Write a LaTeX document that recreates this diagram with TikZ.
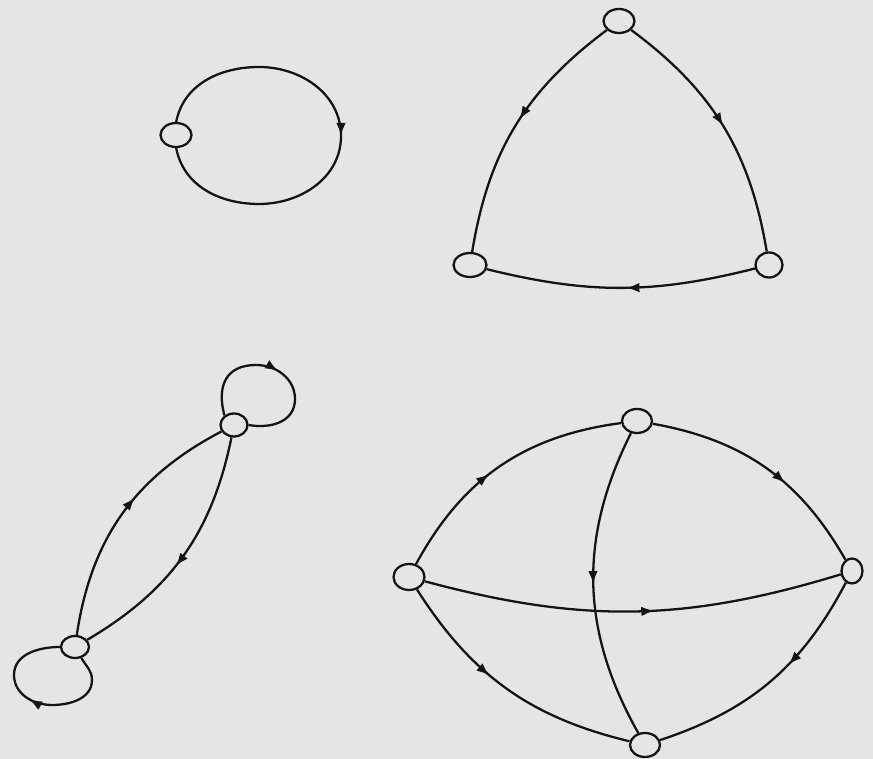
\documentclass[tikz,border=0pt]{standalone}
\usepackage{tikz}
\usetikzlibrary{shapes.geometric, arrows.meta, decorations.markings}

\definecolor{paper}{RGB}{229,229,229}
\definecolor{ink}{RGB}{20,20,20}

\tikzset{
    vertex/.style={ellipse, draw=ink, line width=1.3pt, fill=paper, inner sep=0pt,
        minimum width=0.6cm, minimum height=0.48cm},
    arc/.style={draw=ink, line width=1.3pt},
    midarrow/.style={postaction={decorate}, decoration={markings,
        mark=at position #1 with {\arrow{Latex[length=7.5pt,width=5.5pt]}}}},
    midarrow/.default=0.5
}

\begin{document}
\begin{tikzpicture}[x=0.02cm, y=0.02cm]
    % The page
    \fill[paper] (0,0) rectangle (873,-759);

    % One vertex with a loop
    \coordinate (atop) at (259,-67);
    \coordinate (aright) at (341,-136);
    \coordinate (abot) at (259,-204);
    \draw[arc, midarrow=0.5] (176,-123) to[out=80,in=180] (atop) to[out=0,in=90] (aright)
        to[out=-90,in=0] (abot) to[out=180,in=-80] (176,-147);
    \node[vertex, minimum width=0.62cm] (a) at (176,-135) {};

    % The triangle
    \node[vertex, minimum width=0.62cm] (t) at (619,-21) {};
    \node[vertex, minimum width=0.66cm] (l) at (470,-265) {};
    \node[vertex, minimum width=0.54cm, minimum height=0.5cm] (r) at (769,-265) {};
    \draw[arc, midarrow=0.47] (t) to[bend right=22] (l);
    \draw[arc, midarrow=0.5] (t) to[bend left=22] (r);
    \draw[arc, midarrow=0.48] (r) to[bend left=14] (l);

    % Two vertices, two loops
    \node[vertex, minimum width=0.54cm, minimum height=0.46cm] (b1) at (234,-425) {};
    \node[vertex, minimum width=0.56cm, minimum height=0.44cm] (b2) at (75,-647) {};
    \draw[arc, midarrow=0.58] (b2) to[bend left=27] (b1);
    \draw[arc, midarrow=0.55] (b1) to[bend left=24] (b2);
    \coordinate (bt) at (256,-365);
    \coordinate (br) at (295,-399);
    \draw[arc, midarrow=0.5] (b1.135) to[out=105,in=180,looseness=1.3] (bt) to[out=0,in=90] (br)
        to[out=-90,in=-10,looseness=1.1] (b1.east);
    \coordinate (cr) at (92,-680);
    \coordinate (cb) at (52,-705);
    \coordinate (cl) at (14,-675);
    \draw[arc, midarrow=0.53] (b2.-60) to[out=-60,in=90] (cr) to[out=-90,in=0] (cb)
        to[out=180,in=-90] (cl) to[out=90,in=180] (b2.west);

    % Four vertices
    \node[vertex] (t4) at (637,-421) {};
    \node[vertex, minimum width=0.62cm, minimum height=0.52cm] (l4) at (409,-577) {};
    \node[vertex, minimum width=0.42cm, minimum height=0.5cm] (r4) at (852,-571) {};
    \node[vertex] (d4) at (645,-745) {};
    \draw[arc, midarrow=0.45] (l4) to[bend left=27] (t4);
    \draw[arc, midarrow=0.6] (t4) to[bend left=25] (r4);
    \draw[arc, midarrow=0.5] (t4) to[bend right=28] (d4);
    \draw[arc, midarrow=0.55] (l4) to[bend right=16] (r4);
    \draw[arc, midarrow=0.42] (l4) to[bend right=22] (d4);
    \draw[arc, midarrow=0.4] (r4) to[bend left=22] (d4);
\end{tikzpicture}
\end{document}
